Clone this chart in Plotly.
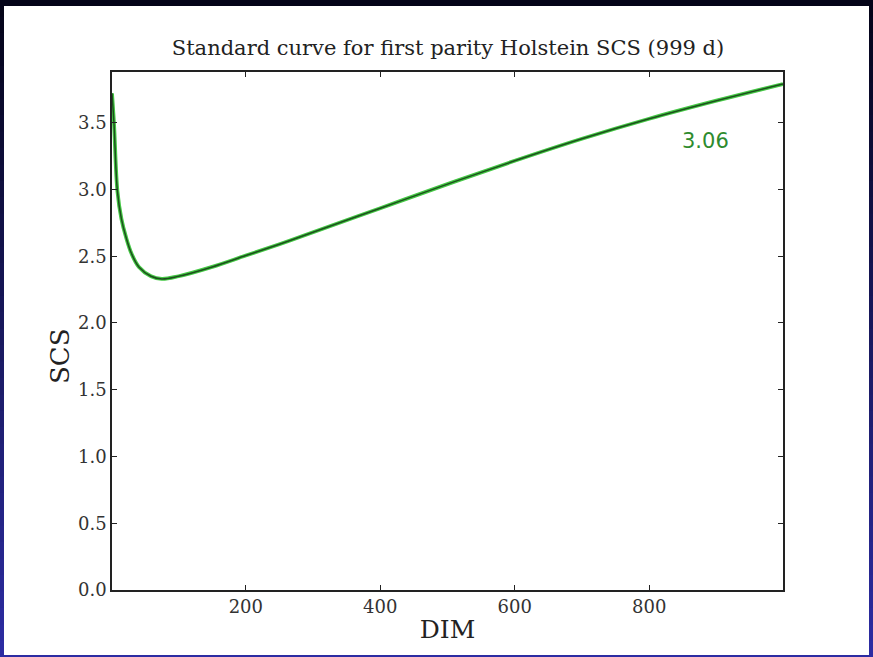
import plotly.graph_objects as go

# Data
dim = [1, 4, 9, 15, 22, 30, 41, 59, 75, 100, 150, 200, 250, 300, 400,
       500, 600, 700, 800, 900, 999]
scs = [3.72, 3.49, 2.99, 2.78, 2.64, 2.52, 2.42, 2.35, 2.33, 2.35, 2.42, 2.505,
       2.59, 2.68, 2.86, 3.04, 3.215, 3.38, 3.53, 3.665, 3.79]
x_ticks = [200, 400, 600, 800]
y_ticks = [0.0, 0.5, 1.0, 1.5, 2.0, 2.5, 3.0, 3.5]
y_tick_text = ["0.0", "0.5", "1.0", "1.5", "2.0", "2.5", "3.0", "3.5"]
annot_label = "3.06"
annot_pos = (884, 3.36)

W, H = 873, 657
L, R, T, B = 112, 783, 72, 590
pw, ph = R - L, B - T

def px_x(p):
    return (p - L) / pw

def px_y(p):
    return (B - p) / ph

fig = go.Figure()
fig.add_trace(go.Scatter(x=dim, y=scs, mode="lines", line=dict(color="#44c844", width=3.8, shape="spline", smoothing=1.0),
                         hoverinfo="skip", showlegend=False))
fig.add_trace(go.Scatter(x=dim, y=scs, mode="lines", line=dict(color="#1d4f1d", width=1.5, shape="spline", smoothing=1.0),
                         showlegend=False))

shapes = []
# vertical gradient background bands
n = 40
c0 = (4, 4, 24)
c1 = (44, 44, 162)
for i in range(n):
    t = i / (n - 1)
    col = tuple(int(round(c0[k] + (c1[k] - c0[k]) * t)) for k in range(3))
    y_top = i * H / n
    y_bot = (i + 1) * H / n + 1
    shapes.append(dict(type="rect", xref="paper", yref="paper", layer="below",
                       x0=px_x(-2), x1=px_x(W + 2), y0=px_y(y_bot), y1=px_y(y_top),
                       fillcolor="rgb(%d,%d,%d)" % col, line=dict(width=0)))
# white panel
shapes.append(dict(type="rect", xref="paper", yref="paper", layer="below",
                   x0=px_x(4), x1=px_x(869), y0=px_y(655), y1=px_y(6),
                   fillcolor="white", line=dict(width=0)))

fig.update_layout(
    width=W, height=H,
    margin=dict(l=L, r=W - R, t=T, b=H - B, pad=0),
    paper_bgcolor="#10104a",
    plot_bgcolor="white",
    shapes=shapes,
    title=dict(text="Standard curve for first parity Holstein SCS (999 d)",
               x=(448) / W, xanchor="center", y=1 - 48 / H, yanchor="middle",
               font=dict(family="DejaVu Serif", size=21, color="#222")),
    font=dict(family="DejaVu Serif", size=18, color="#333"),
    annotations=[
        dict(x=annot_pos[0], y=annot_pos[1], xref="x", yref="y", text=annot_label,
             showarrow=False, font=dict(family="DejaVu Sans", size=21, color="#2e8b2e")),
        dict(x=px_x(60), y=px_y(356), xref="paper", yref="paper", text="SCS", textangle=-90,
             showarrow=False, xanchor="center", yanchor="middle",
             font=dict(family="DejaVu Serif", size=26, color="#222")),
    ],
)
fig.update_xaxes(range=[1, 999], tickvals=x_ticks, ticks="inside", ticklen=5, tickcolor="#222",
                 showline=True, linecolor="#222", linewidth=1.5, mirror="ticks", showgrid=False,
                 zeroline=False, title=dict(text="DIM", font=dict(family="DejaVu Serif", size=25, color="#222"), standoff=4),
                 tickfont=dict(family="DejaVu Serif", size=18, color="#333"))
fig.update_yaxes(range=[0, 3.88], tickvals=y_ticks, ticktext=y_tick_text, ticks="inside", ticklen=5,
                 tickcolor="#222", showline=True, linecolor="#222", linewidth=1.5, mirror="ticks",
                 showgrid=False, zeroline=False,
                 tickfont=dict(family="DejaVu Serif", size=18, color="#333"))

fig.write_html("out.html")
